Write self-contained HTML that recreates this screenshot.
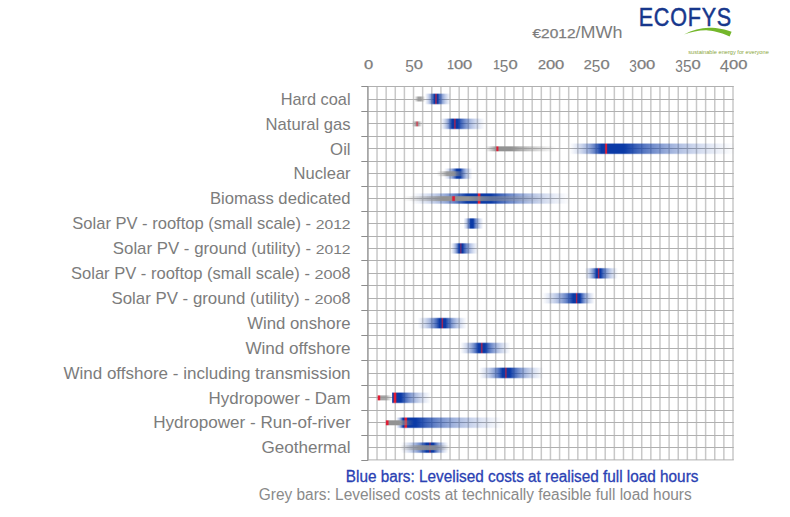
<!DOCTYPE html><html><head><meta charset="utf-8"><title>Levelised cost of electricity</title>
<style>html,body{margin:0;padding:0;background:#fff}svg{display:block}text{font-family:"Liberation Sans",sans-serif}</style></head><body>
<svg width="790" height="517" viewBox="0 0 790 517">
<rect width="790" height="517" fill="#fff"/>
<defs>
<linearGradient id="g0" x1="0" x2="1" y1="0" y2="0"><stop offset="0.0000" stop-color="#929292" stop-opacity="0.000"/><stop offset="0.0432" stop-color="#929292" stop-opacity="0.088"/><stop offset="0.0864" stop-color="#929292" stop-opacity="0.179"/><stop offset="0.1295" stop-color="#929292" stop-opacity="0.273"/><stop offset="0.1727" stop-color="#929292" stop-opacity="0.374"/><stop offset="0.2159" stop-color="#929292" stop-opacity="0.483"/><stop offset="0.2591" stop-color="#929292" stop-opacity="0.602"/><stop offset="0.3023" stop-color="#929292" stop-opacity="0.734"/><stop offset="0.3455" stop-color="#929292" stop-opacity="0.880"/><stop offset="0.6091" stop-color="#929292" stop-opacity="0.880"/><stop offset="0.6580" stop-color="#929292" stop-opacity="0.734"/><stop offset="0.7068" stop-color="#929292" stop-opacity="0.602"/><stop offset="0.7557" stop-color="#929292" stop-opacity="0.483"/><stop offset="0.8045" stop-color="#929292" stop-opacity="0.374"/><stop offset="0.8534" stop-color="#929292" stop-opacity="0.273"/><stop offset="0.9023" stop-color="#929292" stop-opacity="0.179"/><stop offset="0.9511" stop-color="#929292" stop-opacity="0.088"/><stop offset="1.0000" stop-color="#929292" stop-opacity="0.000"/></linearGradient>
<linearGradient id="g1" x1="0" x2="1" y1="0" y2="0"><stop offset="0.0000" stop-color="#0b3aa6" stop-opacity="0.000"/><stop offset="0.0457" stop-color="#0b3aa6" stop-opacity="0.063"/><stop offset="0.0913" stop-color="#0b3aa6" stop-opacity="0.133"/><stop offset="0.1370" stop-color="#0b3aa6" stop-opacity="0.214"/><stop offset="0.1827" stop-color="#0b3aa6" stop-opacity="0.312"/><stop offset="0.2284" stop-color="#0b3aa6" stop-opacity="0.435"/><stop offset="0.2740" stop-color="#0b3aa6" stop-opacity="0.586"/><stop offset="0.3197" stop-color="#0b3aa6" stop-opacity="0.772"/><stop offset="0.3654" stop-color="#0b3aa6" stop-opacity="1.000"/><stop offset="0.4962" stop-color="#0b3aa6" stop-opacity="1.000"/><stop offset="0.5591" stop-color="#0b3aa6" stop-opacity="0.772"/><stop offset="0.6221" stop-color="#0b3aa6" stop-opacity="0.586"/><stop offset="0.6851" stop-color="#0b3aa6" stop-opacity="0.435"/><stop offset="0.7481" stop-color="#0b3aa6" stop-opacity="0.312"/><stop offset="0.8111" stop-color="#0b3aa6" stop-opacity="0.214"/><stop offset="0.8740" stop-color="#0b3aa6" stop-opacity="0.133"/><stop offset="0.9370" stop-color="#0b3aa6" stop-opacity="0.063"/><stop offset="1.0000" stop-color="#0b3aa6" stop-opacity="0.000"/></linearGradient>
<linearGradient id="g2" x1="0" x2="1" y1="0" y2="0"><stop offset="0.0000" stop-color="#929292" stop-opacity="0.000"/><stop offset="0.0429" stop-color="#929292" stop-opacity="0.080"/><stop offset="0.0857" stop-color="#929292" stop-opacity="0.163"/><stop offset="0.1286" stop-color="#929292" stop-opacity="0.248"/><stop offset="0.1714" stop-color="#929292" stop-opacity="0.340"/><stop offset="0.2143" stop-color="#929292" stop-opacity="0.439"/><stop offset="0.2571" stop-color="#929292" stop-opacity="0.548"/><stop offset="0.3000" stop-color="#929292" stop-opacity="0.667"/><stop offset="0.3429" stop-color="#929292" stop-opacity="0.800"/><stop offset="0.6571" stop-color="#929292" stop-opacity="0.800"/><stop offset="0.7000" stop-color="#929292" stop-opacity="0.667"/><stop offset="0.7429" stop-color="#929292" stop-opacity="0.548"/><stop offset="0.7857" stop-color="#929292" stop-opacity="0.439"/><stop offset="0.8286" stop-color="#929292" stop-opacity="0.340"/><stop offset="0.8714" stop-color="#929292" stop-opacity="0.248"/><stop offset="0.9143" stop-color="#929292" stop-opacity="0.163"/><stop offset="0.9571" stop-color="#929292" stop-opacity="0.080"/><stop offset="1.0000" stop-color="#929292" stop-opacity="0.000"/></linearGradient>
<linearGradient id="g3" x1="0" x2="1" y1="0" y2="0"><stop offset="0.0000" stop-color="#0b3aa6" stop-opacity="0.000"/><stop offset="0.0319" stop-color="#0b3aa6" stop-opacity="0.063"/><stop offset="0.0638" stop-color="#0b3aa6" stop-opacity="0.133"/><stop offset="0.0957" stop-color="#0b3aa6" stop-opacity="0.214"/><stop offset="0.1275" stop-color="#0b3aa6" stop-opacity="0.312"/><stop offset="0.1594" stop-color="#0b3aa6" stop-opacity="0.435"/><stop offset="0.1913" stop-color="#0b3aa6" stop-opacity="0.586"/><stop offset="0.2232" stop-color="#0b3aa6" stop-opacity="0.772"/><stop offset="0.2551" stop-color="#0b3aa6" stop-opacity="1.000"/><stop offset="0.3860" stop-color="#0b3aa6" stop-opacity="1.000"/><stop offset="0.4628" stop-color="#0b3aa6" stop-opacity="0.772"/><stop offset="0.5395" stop-color="#0b3aa6" stop-opacity="0.586"/><stop offset="0.6163" stop-color="#0b3aa6" stop-opacity="0.435"/><stop offset="0.6930" stop-color="#0b3aa6" stop-opacity="0.312"/><stop offset="0.7698" stop-color="#0b3aa6" stop-opacity="0.214"/><stop offset="0.8465" stop-color="#0b3aa6" stop-opacity="0.133"/><stop offset="0.9233" stop-color="#0b3aa6" stop-opacity="0.063"/><stop offset="1.0000" stop-color="#0b3aa6" stop-opacity="0.000"/></linearGradient>
<linearGradient id="g4" x1="0" x2="1" y1="0" y2="0"><stop offset="0.0000" stop-color="#929292" stop-opacity="0.000"/><stop offset="0.0187" stop-color="#929292" stop-opacity="0.100"/><stop offset="0.0374" stop-color="#929292" stop-opacity="0.203"/><stop offset="0.0561" stop-color="#929292" stop-opacity="0.311"/><stop offset="0.0748" stop-color="#929292" stop-opacity="0.425"/><stop offset="0.0935" stop-color="#929292" stop-opacity="0.549"/><stop offset="0.1122" stop-color="#929292" stop-opacity="0.684"/><stop offset="0.1309" stop-color="#929292" stop-opacity="0.834"/><stop offset="0.1497" stop-color="#929292" stop-opacity="1.000"/><stop offset="0.3566" stop-color="#929292" stop-opacity="1.000"/><stop offset="0.4371" stop-color="#929292" stop-opacity="0.834"/><stop offset="0.5175" stop-color="#929292" stop-opacity="0.684"/><stop offset="0.5979" stop-color="#929292" stop-opacity="0.549"/><stop offset="0.6783" stop-color="#929292" stop-opacity="0.425"/><stop offset="0.7587" stop-color="#929292" stop-opacity="0.311"/><stop offset="0.8392" stop-color="#929292" stop-opacity="0.203"/><stop offset="0.9196" stop-color="#929292" stop-opacity="0.100"/><stop offset="1.0000" stop-color="#929292" stop-opacity="0.000"/></linearGradient>
<linearGradient id="g5" x1="0" x2="1" y1="0" y2="0"><stop offset="0.0000" stop-color="#0b3aa6" stop-opacity="0.000"/><stop offset="0.0242" stop-color="#0b3aa6" stop-opacity="0.063"/><stop offset="0.0483" stop-color="#0b3aa6" stop-opacity="0.133"/><stop offset="0.0725" stop-color="#0b3aa6" stop-opacity="0.214"/><stop offset="0.0966" stop-color="#0b3aa6" stop-opacity="0.312"/><stop offset="0.1208" stop-color="#0b3aa6" stop-opacity="0.435"/><stop offset="0.1449" stop-color="#0b3aa6" stop-opacity="0.586"/><stop offset="0.1691" stop-color="#0b3aa6" stop-opacity="0.772"/><stop offset="0.1932" stop-color="#0b3aa6" stop-opacity="1.000"/><stop offset="0.3297" stop-color="#0b3aa6" stop-opacity="1.000"/><stop offset="0.4135" stop-color="#0b3aa6" stop-opacity="0.772"/><stop offset="0.4973" stop-color="#0b3aa6" stop-opacity="0.586"/><stop offset="0.5811" stop-color="#0b3aa6" stop-opacity="0.435"/><stop offset="0.6649" stop-color="#0b3aa6" stop-opacity="0.312"/><stop offset="0.7486" stop-color="#0b3aa6" stop-opacity="0.214"/><stop offset="0.8324" stop-color="#0b3aa6" stop-opacity="0.133"/><stop offset="0.9162" stop-color="#0b3aa6" stop-opacity="0.063"/><stop offset="1.0000" stop-color="#0b3aa6" stop-opacity="0.000"/></linearGradient>
<linearGradient id="g6" x1="0" x2="1" y1="0" y2="0"><stop offset="0.0000" stop-color="#0b3aa6" stop-opacity="0.000"/><stop offset="0.0561" stop-color="#0b3aa6" stop-opacity="0.063"/><stop offset="0.1122" stop-color="#0b3aa6" stop-opacity="0.133"/><stop offset="0.1683" stop-color="#0b3aa6" stop-opacity="0.214"/><stop offset="0.2244" stop-color="#0b3aa6" stop-opacity="0.312"/><stop offset="0.2805" stop-color="#0b3aa6" stop-opacity="0.435"/><stop offset="0.3366" stop-color="#0b3aa6" stop-opacity="0.586"/><stop offset="0.3927" stop-color="#0b3aa6" stop-opacity="0.772"/><stop offset="0.4488" stop-color="#0b3aa6" stop-opacity="1.000"/><stop offset="0.5760" stop-color="#0b3aa6" stop-opacity="1.000"/><stop offset="0.6290" stop-color="#0b3aa6" stop-opacity="0.772"/><stop offset="0.6820" stop-color="#0b3aa6" stop-opacity="0.586"/><stop offset="0.7350" stop-color="#0b3aa6" stop-opacity="0.435"/><stop offset="0.7880" stop-color="#0b3aa6" stop-opacity="0.312"/><stop offset="0.8410" stop-color="#0b3aa6" stop-opacity="0.214"/><stop offset="0.8940" stop-color="#0b3aa6" stop-opacity="0.133"/><stop offset="0.9470" stop-color="#0b3aa6" stop-opacity="0.063"/><stop offset="1.0000" stop-color="#0b3aa6" stop-opacity="0.000"/></linearGradient>
<linearGradient id="g7" x1="0" x2="1" y1="0" y2="0"><stop offset="0.0000" stop-color="#929292" stop-opacity="0.000"/><stop offset="0.0452" stop-color="#929292" stop-opacity="0.088"/><stop offset="0.0904" stop-color="#929292" stop-opacity="0.179"/><stop offset="0.1356" stop-color="#929292" stop-opacity="0.273"/><stop offset="0.1809" stop-color="#929292" stop-opacity="0.374"/><stop offset="0.2261" stop-color="#929292" stop-opacity="0.483"/><stop offset="0.2713" stop-color="#929292" stop-opacity="0.602"/><stop offset="0.3165" stop-color="#929292" stop-opacity="0.734"/><stop offset="0.3617" stop-color="#929292" stop-opacity="0.880"/><stop offset="0.6099" stop-color="#929292" stop-opacity="0.880"/><stop offset="0.6587" stop-color="#929292" stop-opacity="0.734"/><stop offset="0.7074" stop-color="#929292" stop-opacity="0.602"/><stop offset="0.7562" stop-color="#929292" stop-opacity="0.483"/><stop offset="0.8050" stop-color="#929292" stop-opacity="0.374"/><stop offset="0.8537" stop-color="#929292" stop-opacity="0.273"/><stop offset="0.9025" stop-color="#929292" stop-opacity="0.179"/><stop offset="0.9512" stop-color="#929292" stop-opacity="0.088"/><stop offset="1.0000" stop-color="#929292" stop-opacity="0.000"/></linearGradient>
<linearGradient id="g8" x1="0" x2="1" y1="0" y2="0"><stop offset="0.0000" stop-color="#0b3aa6" stop-opacity="0.000"/><stop offset="0.0440" stop-color="#0b3aa6" stop-opacity="0.063"/><stop offset="0.0881" stop-color="#0b3aa6" stop-opacity="0.133"/><stop offset="0.1321" stop-color="#0b3aa6" stop-opacity="0.214"/><stop offset="0.1761" stop-color="#0b3aa6" stop-opacity="0.312"/><stop offset="0.2201" stop-color="#0b3aa6" stop-opacity="0.435"/><stop offset="0.2642" stop-color="#0b3aa6" stop-opacity="0.586"/><stop offset="0.3082" stop-color="#0b3aa6" stop-opacity="0.772"/><stop offset="0.3522" stop-color="#0b3aa6" stop-opacity="1.000"/><stop offset="0.5031" stop-color="#0b3aa6" stop-opacity="1.000"/><stop offset="0.5653" stop-color="#0b3aa6" stop-opacity="0.772"/><stop offset="0.6274" stop-color="#0b3aa6" stop-opacity="0.586"/><stop offset="0.6895" stop-color="#0b3aa6" stop-opacity="0.435"/><stop offset="0.7516" stop-color="#0b3aa6" stop-opacity="0.312"/><stop offset="0.8137" stop-color="#0b3aa6" stop-opacity="0.214"/><stop offset="0.8758" stop-color="#0b3aa6" stop-opacity="0.133"/><stop offset="0.9379" stop-color="#0b3aa6" stop-opacity="0.063"/><stop offset="1.0000" stop-color="#0b3aa6" stop-opacity="0.000"/></linearGradient>
<linearGradient id="g9" x1="0" x2="1" y1="0" y2="0"><stop offset="0.0000" stop-color="#929292" stop-opacity="0.000"/><stop offset="0.0352" stop-color="#929292" stop-opacity="0.100"/><stop offset="0.0704" stop-color="#929292" stop-opacity="0.203"/><stop offset="0.1056" stop-color="#929292" stop-opacity="0.311"/><stop offset="0.1408" stop-color="#929292" stop-opacity="0.425"/><stop offset="0.1761" stop-color="#929292" stop-opacity="0.549"/><stop offset="0.2113" stop-color="#929292" stop-opacity="0.684"/><stop offset="0.2465" stop-color="#929292" stop-opacity="0.834"/><stop offset="0.2817" stop-color="#929292" stop-opacity="1.000"/><stop offset="0.4577" stop-color="#929292" stop-opacity="1.000"/><stop offset="0.5255" stop-color="#929292" stop-opacity="0.834"/><stop offset="0.5933" stop-color="#929292" stop-opacity="0.684"/><stop offset="0.6611" stop-color="#929292" stop-opacity="0.549"/><stop offset="0.7289" stop-color="#929292" stop-opacity="0.425"/><stop offset="0.7967" stop-color="#929292" stop-opacity="0.311"/><stop offset="0.8644" stop-color="#929292" stop-opacity="0.203"/><stop offset="0.9322" stop-color="#929292" stop-opacity="0.100"/><stop offset="1.0000" stop-color="#929292" stop-opacity="0.000"/></linearGradient>
<linearGradient id="g10" x1="0" x2="1" y1="0" y2="0"><stop offset="0.0000" stop-color="#0b3aa6" stop-opacity="0.000"/><stop offset="0.0456" stop-color="#0b3aa6" stop-opacity="0.063"/><stop offset="0.0912" stop-color="#0b3aa6" stop-opacity="0.133"/><stop offset="0.1369" stop-color="#0b3aa6" stop-opacity="0.214"/><stop offset="0.1825" stop-color="#0b3aa6" stop-opacity="0.312"/><stop offset="0.2281" stop-color="#0b3aa6" stop-opacity="0.435"/><stop offset="0.2738" stop-color="#0b3aa6" stop-opacity="0.586"/><stop offset="0.3194" stop-color="#0b3aa6" stop-opacity="0.772"/><stop offset="0.3650" stop-color="#0b3aa6" stop-opacity="1.000"/><stop offset="0.4950" stop-color="#0b3aa6" stop-opacity="1.000"/><stop offset="0.5581" stop-color="#0b3aa6" stop-opacity="0.772"/><stop offset="0.6213" stop-color="#0b3aa6" stop-opacity="0.586"/><stop offset="0.6844" stop-color="#0b3aa6" stop-opacity="0.435"/><stop offset="0.7475" stop-color="#0b3aa6" stop-opacity="0.312"/><stop offset="0.8106" stop-color="#0b3aa6" stop-opacity="0.214"/><stop offset="0.8737" stop-color="#0b3aa6" stop-opacity="0.133"/><stop offset="0.9369" stop-color="#0b3aa6" stop-opacity="0.063"/><stop offset="1.0000" stop-color="#0b3aa6" stop-opacity="0.000"/></linearGradient>
<linearGradient id="g11" x1="0" x2="1" y1="0" y2="0"><stop offset="0.0000" stop-color="#0b3aa6" stop-opacity="0.000"/><stop offset="0.0377" stop-color="#0b3aa6" stop-opacity="0.063"/><stop offset="0.0755" stop-color="#0b3aa6" stop-opacity="0.133"/><stop offset="0.1132" stop-color="#0b3aa6" stop-opacity="0.214"/><stop offset="0.1509" stop-color="#0b3aa6" stop-opacity="0.312"/><stop offset="0.1886" stop-color="#0b3aa6" stop-opacity="0.435"/><stop offset="0.2264" stop-color="#0b3aa6" stop-opacity="0.586"/><stop offset="0.2641" stop-color="#0b3aa6" stop-opacity="0.772"/><stop offset="0.3018" stop-color="#0b3aa6" stop-opacity="1.000"/><stop offset="0.4327" stop-color="#0b3aa6" stop-opacity="1.000"/><stop offset="0.5036" stop-color="#0b3aa6" stop-opacity="0.772"/><stop offset="0.5745" stop-color="#0b3aa6" stop-opacity="0.586"/><stop offset="0.6455" stop-color="#0b3aa6" stop-opacity="0.435"/><stop offset="0.7164" stop-color="#0b3aa6" stop-opacity="0.312"/><stop offset="0.7873" stop-color="#0b3aa6" stop-opacity="0.214"/><stop offset="0.8582" stop-color="#0b3aa6" stop-opacity="0.133"/><stop offset="0.9291" stop-color="#0b3aa6" stop-opacity="0.063"/><stop offset="1.0000" stop-color="#0b3aa6" stop-opacity="0.000"/></linearGradient>
<linearGradient id="g12" x1="0" x2="1" y1="0" y2="0"><stop offset="0.0000" stop-color="#0b3aa6" stop-opacity="0.000"/><stop offset="0.0441" stop-color="#0b3aa6" stop-opacity="0.063"/><stop offset="0.0881" stop-color="#0b3aa6" stop-opacity="0.133"/><stop offset="0.1322" stop-color="#0b3aa6" stop-opacity="0.214"/><stop offset="0.1762" stop-color="#0b3aa6" stop-opacity="0.312"/><stop offset="0.2203" stop-color="#0b3aa6" stop-opacity="0.435"/><stop offset="0.2643" stop-color="#0b3aa6" stop-opacity="0.586"/><stop offset="0.3084" stop-color="#0b3aa6" stop-opacity="0.772"/><stop offset="0.3524" stop-color="#0b3aa6" stop-opacity="1.000"/><stop offset="0.4789" stop-color="#0b3aa6" stop-opacity="1.000"/><stop offset="0.5441" stop-color="#0b3aa6" stop-opacity="0.772"/><stop offset="0.6092" stop-color="#0b3aa6" stop-opacity="0.586"/><stop offset="0.6743" stop-color="#0b3aa6" stop-opacity="0.435"/><stop offset="0.7395" stop-color="#0b3aa6" stop-opacity="0.312"/><stop offset="0.8046" stop-color="#0b3aa6" stop-opacity="0.214"/><stop offset="0.8697" stop-color="#0b3aa6" stop-opacity="0.133"/><stop offset="0.9349" stop-color="#0b3aa6" stop-opacity="0.063"/><stop offset="1.0000" stop-color="#0b3aa6" stop-opacity="0.000"/></linearGradient>
<linearGradient id="g13" x1="0" x2="1" y1="0" y2="0"><stop offset="0.0000" stop-color="#0b3aa6" stop-opacity="0.000"/><stop offset="0.0741" stop-color="#0b3aa6" stop-opacity="0.063"/><stop offset="0.1483" stop-color="#0b3aa6" stop-opacity="0.133"/><stop offset="0.2224" stop-color="#0b3aa6" stop-opacity="0.214"/><stop offset="0.2966" stop-color="#0b3aa6" stop-opacity="0.312"/><stop offset="0.3707" stop-color="#0b3aa6" stop-opacity="0.435"/><stop offset="0.4449" stop-color="#0b3aa6" stop-opacity="0.586"/><stop offset="0.5190" stop-color="#0b3aa6" stop-opacity="0.772"/><stop offset="0.5932" stop-color="#0b3aa6" stop-opacity="1.000"/><stop offset="0.7224" stop-color="#0b3aa6" stop-opacity="1.000"/><stop offset="0.7571" stop-color="#0b3aa6" stop-opacity="0.772"/><stop offset="0.7918" stop-color="#0b3aa6" stop-opacity="0.586"/><stop offset="0.8265" stop-color="#0b3aa6" stop-opacity="0.435"/><stop offset="0.8612" stop-color="#0b3aa6" stop-opacity="0.312"/><stop offset="0.8959" stop-color="#0b3aa6" stop-opacity="0.214"/><stop offset="0.9306" stop-color="#0b3aa6" stop-opacity="0.133"/><stop offset="0.9653" stop-color="#0b3aa6" stop-opacity="0.063"/><stop offset="1.0000" stop-color="#0b3aa6" stop-opacity="0.000"/></linearGradient>
<linearGradient id="g14" x1="0" x2="1" y1="0" y2="0"><stop offset="0.0000" stop-color="#0b3aa6" stop-opacity="0.000"/><stop offset="0.0554" stop-color="#0b3aa6" stop-opacity="0.063"/><stop offset="0.1108" stop-color="#0b3aa6" stop-opacity="0.133"/><stop offset="0.1662" stop-color="#0b3aa6" stop-opacity="0.214"/><stop offset="0.2217" stop-color="#0b3aa6" stop-opacity="0.312"/><stop offset="0.2771" stop-color="#0b3aa6" stop-opacity="0.435"/><stop offset="0.3325" stop-color="#0b3aa6" stop-opacity="0.586"/><stop offset="0.3879" stop-color="#0b3aa6" stop-opacity="0.772"/><stop offset="0.4433" stop-color="#0b3aa6" stop-opacity="1.000"/><stop offset="0.5607" stop-color="#0b3aa6" stop-opacity="1.000"/><stop offset="0.6156" stop-color="#0b3aa6" stop-opacity="0.772"/><stop offset="0.6705" stop-color="#0b3aa6" stop-opacity="0.586"/><stop offset="0.7255" stop-color="#0b3aa6" stop-opacity="0.435"/><stop offset="0.7804" stop-color="#0b3aa6" stop-opacity="0.312"/><stop offset="0.8353" stop-color="#0b3aa6" stop-opacity="0.214"/><stop offset="0.8902" stop-color="#0b3aa6" stop-opacity="0.133"/><stop offset="0.9451" stop-color="#0b3aa6" stop-opacity="0.063"/><stop offset="1.0000" stop-color="#0b3aa6" stop-opacity="0.000"/></linearGradient>
<linearGradient id="g15" x1="0" x2="1" y1="0" y2="0"><stop offset="0.0000" stop-color="#0b3aa6" stop-opacity="0.000"/><stop offset="0.0457" stop-color="#0b3aa6" stop-opacity="0.063"/><stop offset="0.0915" stop-color="#0b3aa6" stop-opacity="0.133"/><stop offset="0.1372" stop-color="#0b3aa6" stop-opacity="0.214"/><stop offset="0.1829" stop-color="#0b3aa6" stop-opacity="0.312"/><stop offset="0.2286" stop-color="#0b3aa6" stop-opacity="0.435"/><stop offset="0.2744" stop-color="#0b3aa6" stop-opacity="0.586"/><stop offset="0.3201" stop-color="#0b3aa6" stop-opacity="0.772"/><stop offset="0.3658" stop-color="#0b3aa6" stop-opacity="1.000"/><stop offset="0.4930" stop-color="#0b3aa6" stop-opacity="1.000"/><stop offset="0.5564" stop-color="#0b3aa6" stop-opacity="0.772"/><stop offset="0.6198" stop-color="#0b3aa6" stop-opacity="0.586"/><stop offset="0.6832" stop-color="#0b3aa6" stop-opacity="0.435"/><stop offset="0.7465" stop-color="#0b3aa6" stop-opacity="0.312"/><stop offset="0.8099" stop-color="#0b3aa6" stop-opacity="0.214"/><stop offset="0.8733" stop-color="#0b3aa6" stop-opacity="0.133"/><stop offset="0.9366" stop-color="#0b3aa6" stop-opacity="0.063"/><stop offset="1.0000" stop-color="#0b3aa6" stop-opacity="0.000"/></linearGradient>
<linearGradient id="g16" x1="0" x2="1" y1="0" y2="0"><stop offset="0.0000" stop-color="#0b3aa6" stop-opacity="0.000"/><stop offset="0.0458" stop-color="#0b3aa6" stop-opacity="0.063"/><stop offset="0.0916" stop-color="#0b3aa6" stop-opacity="0.133"/><stop offset="0.1374" stop-color="#0b3aa6" stop-opacity="0.214"/><stop offset="0.1832" stop-color="#0b3aa6" stop-opacity="0.312"/><stop offset="0.2289" stop-color="#0b3aa6" stop-opacity="0.435"/><stop offset="0.2747" stop-color="#0b3aa6" stop-opacity="0.586"/><stop offset="0.3205" stop-color="#0b3aa6" stop-opacity="0.772"/><stop offset="0.3663" stop-color="#0b3aa6" stop-opacity="1.000"/><stop offset="0.4822" stop-color="#0b3aa6" stop-opacity="1.000"/><stop offset="0.5469" stop-color="#0b3aa6" stop-opacity="0.772"/><stop offset="0.6117" stop-color="#0b3aa6" stop-opacity="0.586"/><stop offset="0.6764" stop-color="#0b3aa6" stop-opacity="0.435"/><stop offset="0.7411" stop-color="#0b3aa6" stop-opacity="0.312"/><stop offset="0.8058" stop-color="#0b3aa6" stop-opacity="0.214"/><stop offset="0.8706" stop-color="#0b3aa6" stop-opacity="0.133"/><stop offset="0.9353" stop-color="#0b3aa6" stop-opacity="0.063"/><stop offset="1.0000" stop-color="#0b3aa6" stop-opacity="0.000"/></linearGradient>
<linearGradient id="g17" x1="0" x2="1" y1="0" y2="0"><stop offset="0.0000" stop-color="#0b3aa6" stop-opacity="0.000"/><stop offset="0.0038" stop-color="#0b3aa6" stop-opacity="0.063"/><stop offset="0.0076" stop-color="#0b3aa6" stop-opacity="0.133"/><stop offset="0.0114" stop-color="#0b3aa6" stop-opacity="0.214"/><stop offset="0.0152" stop-color="#0b3aa6" stop-opacity="0.312"/><stop offset="0.0189" stop-color="#0b3aa6" stop-opacity="0.435"/><stop offset="0.0227" stop-color="#0b3aa6" stop-opacity="0.586"/><stop offset="0.0265" stop-color="#0b3aa6" stop-opacity="0.772"/><stop offset="0.0303" stop-color="#0b3aa6" stop-opacity="1.000"/><stop offset="0.2424" stop-color="#0b3aa6" stop-opacity="1.000"/><stop offset="0.3371" stop-color="#0b3aa6" stop-opacity="0.772"/><stop offset="0.4318" stop-color="#0b3aa6" stop-opacity="0.586"/><stop offset="0.5265" stop-color="#0b3aa6" stop-opacity="0.435"/><stop offset="0.6212" stop-color="#0b3aa6" stop-opacity="0.312"/><stop offset="0.7159" stop-color="#0b3aa6" stop-opacity="0.214"/><stop offset="0.8106" stop-color="#0b3aa6" stop-opacity="0.133"/><stop offset="0.9053" stop-color="#0b3aa6" stop-opacity="0.063"/><stop offset="1.0000" stop-color="#0b3aa6" stop-opacity="0.000"/></linearGradient>
<linearGradient id="g18" x1="0" x2="1" y1="0" y2="0"><stop offset="0.0000" stop-color="#929292" stop-opacity="0.000"/><stop offset="0.0168" stop-color="#929292" stop-opacity="0.082"/><stop offset="0.0336" stop-color="#929292" stop-opacity="0.167"/><stop offset="0.0503" stop-color="#929292" stop-opacity="0.255"/><stop offset="0.0671" stop-color="#929292" stop-opacity="0.349"/><stop offset="0.0839" stop-color="#929292" stop-opacity="0.450"/><stop offset="0.1007" stop-color="#929292" stop-opacity="0.561"/><stop offset="0.1174" stop-color="#929292" stop-opacity="0.684"/><stop offset="0.1342" stop-color="#929292" stop-opacity="0.820"/><stop offset="0.5638" stop-color="#929292" stop-opacity="0.820"/><stop offset="0.6183" stop-color="#929292" stop-opacity="0.684"/><stop offset="0.6728" stop-color="#929292" stop-opacity="0.561"/><stop offset="0.7273" stop-color="#929292" stop-opacity="0.450"/><stop offset="0.7819" stop-color="#929292" stop-opacity="0.349"/><stop offset="0.8364" stop-color="#929292" stop-opacity="0.255"/><stop offset="0.8909" stop-color="#929292" stop-opacity="0.167"/><stop offset="0.9455" stop-color="#929292" stop-opacity="0.082"/><stop offset="1.0000" stop-color="#929292" stop-opacity="0.000"/></linearGradient>
<linearGradient id="g19" x1="0" x2="1" y1="0" y2="0"><stop offset="0.0000" stop-color="#0b3aa6" stop-opacity="0.000"/><stop offset="0.0080" stop-color="#0b3aa6" stop-opacity="0.063"/><stop offset="0.0161" stop-color="#0b3aa6" stop-opacity="0.133"/><stop offset="0.0241" stop-color="#0b3aa6" stop-opacity="0.214"/><stop offset="0.0321" stop-color="#0b3aa6" stop-opacity="0.312"/><stop offset="0.0401" stop-color="#0b3aa6" stop-opacity="0.435"/><stop offset="0.0482" stop-color="#0b3aa6" stop-opacity="0.586"/><stop offset="0.0562" stop-color="#0b3aa6" stop-opacity="0.772"/><stop offset="0.0642" stop-color="#0b3aa6" stop-opacity="1.000"/><stop offset="0.1835" stop-color="#0b3aa6" stop-opacity="1.000"/><stop offset="0.2856" stop-color="#0b3aa6" stop-opacity="0.772"/><stop offset="0.3876" stop-color="#0b3aa6" stop-opacity="0.586"/><stop offset="0.4897" stop-color="#0b3aa6" stop-opacity="0.435"/><stop offset="0.5917" stop-color="#0b3aa6" stop-opacity="0.312"/><stop offset="0.6938" stop-color="#0b3aa6" stop-opacity="0.214"/><stop offset="0.7959" stop-color="#0b3aa6" stop-opacity="0.133"/><stop offset="0.8979" stop-color="#0b3aa6" stop-opacity="0.063"/><stop offset="1.0000" stop-color="#0b3aa6" stop-opacity="0.000"/></linearGradient>
<linearGradient id="g20" x1="0" x2="1" y1="0" y2="0"><stop offset="0.0000" stop-color="#929292" stop-opacity="0.000"/><stop offset="0.0095" stop-color="#929292" stop-opacity="0.100"/><stop offset="0.0191" stop-color="#929292" stop-opacity="0.203"/><stop offset="0.0286" stop-color="#929292" stop-opacity="0.311"/><stop offset="0.0382" stop-color="#929292" stop-opacity="0.425"/><stop offset="0.0477" stop-color="#929292" stop-opacity="0.549"/><stop offset="0.0573" stop-color="#929292" stop-opacity="0.684"/><stop offset="0.0668" stop-color="#929292" stop-opacity="0.834"/><stop offset="0.0764" stop-color="#929292" stop-opacity="1.000"/><stop offset="0.4792" stop-color="#929292" stop-opacity="1.000"/><stop offset="0.5443" stop-color="#929292" stop-opacity="0.834"/><stop offset="0.6094" stop-color="#929292" stop-opacity="0.684"/><stop offset="0.6745" stop-color="#929292" stop-opacity="0.549"/><stop offset="0.7396" stop-color="#929292" stop-opacity="0.425"/><stop offset="0.8047" stop-color="#929292" stop-opacity="0.311"/><stop offset="0.8698" stop-color="#929292" stop-opacity="0.203"/><stop offset="0.9349" stop-color="#929292" stop-opacity="0.100"/><stop offset="1.0000" stop-color="#929292" stop-opacity="0.000"/></linearGradient>
<linearGradient id="g21" x1="0" x2="1" y1="0" y2="0"><stop offset="0.0000" stop-color="#0b3aa6" stop-opacity="0.000"/><stop offset="0.0671" stop-color="#0b3aa6" stop-opacity="0.063"/><stop offset="0.1342" stop-color="#0b3aa6" stop-opacity="0.133"/><stop offset="0.2013" stop-color="#0b3aa6" stop-opacity="0.214"/><stop offset="0.2684" stop-color="#0b3aa6" stop-opacity="0.312"/><stop offset="0.3355" stop-color="#0b3aa6" stop-opacity="0.435"/><stop offset="0.4026" stop-color="#0b3aa6" stop-opacity="0.586"/><stop offset="0.4697" stop-color="#0b3aa6" stop-opacity="0.772"/><stop offset="0.5368" stop-color="#0b3aa6" stop-opacity="1.000"/><stop offset="0.6800" stop-color="#0b3aa6" stop-opacity="1.000"/><stop offset="0.7200" stop-color="#0b3aa6" stop-opacity="0.772"/><stop offset="0.7600" stop-color="#0b3aa6" stop-opacity="0.586"/><stop offset="0.8000" stop-color="#0b3aa6" stop-opacity="0.435"/><stop offset="0.8400" stop-color="#0b3aa6" stop-opacity="0.312"/><stop offset="0.8800" stop-color="#0b3aa6" stop-opacity="0.214"/><stop offset="0.9200" stop-color="#0b3aa6" stop-opacity="0.133"/><stop offset="0.9600" stop-color="#0b3aa6" stop-opacity="0.063"/><stop offset="1.0000" stop-color="#0b3aa6" stop-opacity="0.000"/></linearGradient>
<linearGradient id="g22" x1="0" x2="1" y1="0" y2="0"><stop offset="0.0000" stop-color="#929292" stop-opacity="0.000"/><stop offset="0.0483" stop-color="#929292" stop-opacity="0.088"/><stop offset="0.0965" stop-color="#929292" stop-opacity="0.179"/><stop offset="0.1448" stop-color="#929292" stop-opacity="0.273"/><stop offset="0.1931" stop-color="#929292" stop-opacity="0.374"/><stop offset="0.2413" stop-color="#929292" stop-opacity="0.483"/><stop offset="0.2896" stop-color="#929292" stop-opacity="0.602"/><stop offset="0.3379" stop-color="#929292" stop-opacity="0.734"/><stop offset="0.3861" stop-color="#929292" stop-opacity="0.880"/><stop offset="0.6832" stop-color="#929292" stop-opacity="0.880"/><stop offset="0.7228" stop-color="#929292" stop-opacity="0.734"/><stop offset="0.7624" stop-color="#929292" stop-opacity="0.602"/><stop offset="0.8020" stop-color="#929292" stop-opacity="0.483"/><stop offset="0.8416" stop-color="#929292" stop-opacity="0.374"/><stop offset="0.8812" stop-color="#929292" stop-opacity="0.273"/><stop offset="0.9208" stop-color="#929292" stop-opacity="0.179"/><stop offset="0.9604" stop-color="#929292" stop-opacity="0.088"/><stop offset="1.0000" stop-color="#929292" stop-opacity="0.000"/></linearGradient>
<linearGradient id="vb" x1="0" x2="0" y1="0" y2="1"><stop offset="0" stop-color="#fff" stop-opacity="0"/><stop offset="0.133" stop-color="#fff" stop-opacity="1"/><stop offset="0.867" stop-color="#fff" stop-opacity="1"/><stop offset="1" stop-color="#fff" stop-opacity="0"/></linearGradient>
<mask id="mb" maskContentUnits="objectBoundingBox" x="0" y="0" width="1" height="1"><rect x="0" y="0" width="1" height="1" fill="url(#vb)"/></mask>
<linearGradient id="vg" x1="0" x2="0" y1="0" y2="1"><stop offset="0" stop-color="#fff" stop-opacity="0"/><stop offset="0.219" stop-color="#fff" stop-opacity="1"/><stop offset="0.781" stop-color="#fff" stop-opacity="1"/><stop offset="1" stop-color="#fff" stop-opacity="0"/></linearGradient>
<mask id="mg" maskContentUnits="objectBoundingBox" x="0" y="0" width="1" height="1"><rect x="0" y="0" width="1" height="1" fill="url(#vg)"/></mask>
</defs>
<g stroke="#c8c8c8" stroke-width="1.5" fill="none">
<line x1="377.03" y1="86.5" x2="377.03" y2="460.1"/>
<line x1="386.15" y1="86.5" x2="386.15" y2="460.1"/>
<line x1="395.28" y1="86.5" x2="395.28" y2="460.1"/>
<line x1="404.41" y1="86.5" x2="404.41" y2="460.1"/>
<line x1="413.54" y1="86.5" x2="413.54" y2="460.1"/>
<line x1="422.66" y1="86.5" x2="422.66" y2="460.1"/>
<line x1="431.79" y1="86.5" x2="431.79" y2="460.1"/>
<line x1="440.92" y1="86.5" x2="440.92" y2="460.1"/>
<line x1="450.05" y1="86.5" x2="450.05" y2="460.1"/>
<line x1="459.17" y1="86.5" x2="459.17" y2="460.1"/>
<line x1="468.30" y1="86.5" x2="468.30" y2="460.1"/>
<line x1="477.43" y1="86.5" x2="477.43" y2="460.1"/>
<line x1="486.56" y1="86.5" x2="486.56" y2="460.1"/>
<line x1="495.69" y1="86.5" x2="495.69" y2="460.1"/>
<line x1="504.81" y1="86.5" x2="504.81" y2="460.1"/>
<line x1="513.94" y1="86.5" x2="513.94" y2="460.1"/>
<line x1="523.07" y1="86.5" x2="523.07" y2="460.1"/>
<line x1="532.19" y1="86.5" x2="532.19" y2="460.1"/>
<line x1="541.32" y1="86.5" x2="541.32" y2="460.1"/>
<line x1="550.45" y1="86.5" x2="550.45" y2="460.1"/>
<line x1="559.58" y1="86.5" x2="559.58" y2="460.1"/>
<line x1="568.70" y1="86.5" x2="568.70" y2="460.1"/>
<line x1="577.83" y1="86.5" x2="577.83" y2="460.1"/>
<line x1="586.96" y1="86.5" x2="586.96" y2="460.1"/>
<line x1="596.09" y1="86.5" x2="596.09" y2="460.1"/>
<line x1="605.21" y1="86.5" x2="605.21" y2="460.1"/>
<line x1="614.34" y1="86.5" x2="614.34" y2="460.1"/>
<line x1="623.47" y1="86.5" x2="623.47" y2="460.1"/>
<line x1="632.60" y1="86.5" x2="632.60" y2="460.1"/>
<line x1="641.72" y1="86.5" x2="641.72" y2="460.1"/>
<line x1="650.85" y1="86.5" x2="650.85" y2="460.1"/>
<line x1="659.98" y1="86.5" x2="659.98" y2="460.1"/>
<line x1="669.11" y1="86.5" x2="669.11" y2="460.1"/>
<line x1="678.24" y1="86.5" x2="678.24" y2="460.1"/>
<line x1="687.36" y1="86.5" x2="687.36" y2="460.1"/>
<line x1="696.49" y1="86.5" x2="696.49" y2="460.1"/>
<line x1="705.62" y1="86.5" x2="705.62" y2="460.1"/>
<line x1="714.75" y1="86.5" x2="714.75" y2="460.1"/>
<line x1="723.87" y1="86.5" x2="723.87" y2="460.1"/>
<line x1="733.00" y1="86.5" x2="733.00" y2="460.1"/>
</g><g stroke="#b0b0b0" stroke-width="1" fill="none">
<line x1="367.9" y1="86.50" x2="733.8" y2="86.50"/>
<line x1="367.9" y1="99.50" x2="733.8" y2="99.50"/>
<line x1="367.9" y1="111.50" x2="733.8" y2="111.50"/>
<line x1="367.9" y1="123.50" x2="733.8" y2="123.50"/>
<line x1="367.9" y1="136.50" x2="733.8" y2="136.50"/>
<line x1="367.9" y1="148.50" x2="733.8" y2="148.50"/>
<line x1="367.9" y1="161.50" x2="733.8" y2="161.50"/>
<line x1="367.9" y1="173.50" x2="733.8" y2="173.50"/>
<line x1="367.9" y1="186.50" x2="733.8" y2="186.50"/>
<line x1="367.9" y1="198.50" x2="733.8" y2="198.50"/>
<line x1="367.9" y1="211.50" x2="733.8" y2="211.50"/>
<line x1="367.9" y1="223.50" x2="733.8" y2="223.50"/>
<line x1="367.9" y1="236.50" x2="733.8" y2="236.50"/>
<line x1="367.9" y1="248.50" x2="733.8" y2="248.50"/>
<line x1="367.9" y1="260.50" x2="733.8" y2="260.50"/>
<line x1="367.9" y1="273.50" x2="733.8" y2="273.50"/>
<line x1="367.9" y1="285.50" x2="733.8" y2="285.50"/>
<line x1="367.9" y1="298.50" x2="733.8" y2="298.50"/>
<line x1="367.9" y1="310.50" x2="733.8" y2="310.50"/>
<line x1="367.9" y1="323.50" x2="733.8" y2="323.50"/>
<line x1="367.9" y1="335.50" x2="733.8" y2="335.50"/>
<line x1="367.9" y1="348.50" x2="733.8" y2="348.50"/>
<line x1="367.9" y1="360.50" x2="733.8" y2="360.50"/>
<line x1="367.9" y1="373.50" x2="733.8" y2="373.50"/>
<line x1="367.9" y1="385.50" x2="733.8" y2="385.50"/>
<line x1="367.9" y1="397.50" x2="733.8" y2="397.50"/>
<line x1="367.9" y1="410.50" x2="733.8" y2="410.50"/>
<line x1="367.9" y1="422.50" x2="733.8" y2="422.50"/>
<line x1="367.9" y1="435.50" x2="733.8" y2="435.50"/>
<line x1="367.9" y1="447.50" x2="733.8" y2="447.50"/>
<line x1="367.9" y1="459.90" x2="733.8" y2="459.90"/>
</g><g stroke="#a2a2a2" stroke-width="1.7" fill="none">
<line x1="367.9" y1="86.1" x2="367.9" y2="460.5"/>
</g><g stroke="#8c8c8c" stroke-width="1" fill="none">
<line x1="361.29999999999995" y1="86.50" x2="367.9" y2="86.50"/>
<line x1="361.29999999999995" y1="111.50" x2="367.9" y2="111.50"/>
<line x1="361.29999999999995" y1="136.50" x2="367.9" y2="136.50"/>
<line x1="361.29999999999995" y1="161.50" x2="367.9" y2="161.50"/>
<line x1="361.29999999999995" y1="186.50" x2="367.9" y2="186.50"/>
<line x1="361.29999999999995" y1="211.50" x2="367.9" y2="211.50"/>
<line x1="361.29999999999995" y1="236.50" x2="367.9" y2="236.50"/>
<line x1="361.29999999999995" y1="260.50" x2="367.9" y2="260.50"/>
<line x1="361.29999999999995" y1="285.50" x2="367.9" y2="285.50"/>
<line x1="361.29999999999995" y1="310.50" x2="367.9" y2="310.50"/>
<line x1="361.29999999999995" y1="335.50" x2="367.9" y2="335.50"/>
<line x1="361.29999999999995" y1="360.50" x2="367.9" y2="360.50"/>
<line x1="361.29999999999995" y1="385.50" x2="367.9" y2="385.50"/>
<line x1="361.29999999999995" y1="410.50" x2="367.9" y2="410.50"/>
<line x1="361.29999999999995" y1="435.50" x2="367.9" y2="435.50"/>
<line x1="361.29999999999995" y1="460.50" x2="367.9" y2="460.50"/>
</g>
<g>
<g mask="url(#mg)"><rect x="414.3" y="95.75" width="11.0" height="6.4" fill="url(#g0)"/>
</g>
<g mask="url(#mb)"><rect x="424.8" y="92.95" width="26.0" height="12.0" fill="url(#g1)"/>
<rect x="434.95" y="92.95" width="2.1" height="12.0" fill="#e01c34" fill-opacity="0.21"/>
<rect x="435.45" y="92.95" width="1.1" height="12.0" fill="#e01c34" fill-opacity="0.70"/>
</g>
<g mask="url(#mg)"><rect x="411.8" y="120.66" width="10.5" height="6.4" fill="url(#g2)"/>
<rect x="416.05" y="120.66" width="2.1" height="6.4" fill="#e01c34" fill-opacity="0.21"/>
<rect x="416.55" y="120.66" width="1.1" height="6.4" fill="#e01c34" fill-opacity="0.70"/>
</g>
<g mask="url(#mb)"><rect x="440.7" y="117.86" width="44.3" height="12.0" fill="url(#g3)"/>
<rect x="453.85" y="117.86" width="2.1" height="12.0" fill="#e01c34" fill-opacity="0.21"/>
<rect x="454.35" y="117.86" width="1.1" height="12.0" fill="#e01c34" fill-opacity="0.70"/>
</g>
<g mask="url(#mg)"><rect x="485.5" y="145.57" width="71.5" height="6.4" fill="url(#g4)"/>
<rect x="496.05" y="145.57" width="2.7" height="6.4" fill="#e01c34" fill-opacity="0.30"/>
<rect x="496.55" y="145.57" width="1.7" height="6.4" fill="#e01c34" fill-opacity="1.00"/>
</g>
<g mask="url(#mb)"><rect x="569.4" y="142.77" width="165.6" height="12.0" fill="url(#g5)"/>
<rect x="604.75" y="142.77" width="2.7" height="12.0" fill="#e01c34" fill-opacity="0.30"/>
<rect x="605.25" y="142.77" width="1.7" height="12.0" fill="#e01c34" fill-opacity="1.00"/>
</g>
<g mask="url(#mb)"><rect x="444.0" y="167.67" width="28.3" height="12.0" fill="url(#g6)"/>
</g>
<g mask="url(#mg)"><rect x="436.8" y="170.47" width="28.2" height="6.4" fill="url(#g7)"/>
</g>
<g mask="url(#mb)"><rect x="411.0" y="192.58" width="159.0" height="12.0" fill="url(#g8)"/>
<rect x="477.40" y="192.58" width="3.4" height="12.0" fill="#e01c34" fill-opacity="0.30"/>
<rect x="477.90" y="192.58" width="2.4" height="12.0" fill="#e01c34" fill-opacity="1.00"/>
</g>
<g mask="url(#mg)"><rect x="403.0" y="195.38" width="142.0" height="6.4" fill="url(#g9)"/>
<rect x="451.90" y="195.38" width="3.4" height="6.4" fill="#e01c34" fill-opacity="0.30"/>
<rect x="452.40" y="195.38" width="2.4" height="6.4" fill="#e01c34" fill-opacity="1.00"/>
</g>
<g mask="url(#mb)"><rect x="463.3" y="217.49" width="20.0" height="12.0" fill="url(#g10)"/>
</g>
<g mask="url(#mb)"><rect x="450.7" y="242.39" width="27.5" height="12.0" fill="url(#g11)"/>
<rect x="459.75" y="242.39" width="2.1" height="12.0" fill="#e01c34" fill-opacity="0.12"/>
<rect x="460.25" y="242.39" width="1.1" height="12.0" fill="#e01c34" fill-opacity="0.40"/>
</g>
<g mask="url(#mb)"><rect x="584.8" y="267.30" width="33.2" height="12.0" fill="url(#g12)"/>
<rect x="597.55" y="267.30" width="2.1" height="12.0" fill="#e01c34" fill-opacity="0.20"/>
<rect x="598.05" y="267.30" width="1.1" height="12.0" fill="#e01c34" fill-opacity="0.68"/>
</g>
<g mask="url(#mb)"><rect x="542.0" y="292.21" width="52.6" height="12.0" fill="url(#g13)"/>
<rect x="575.55" y="292.21" width="2.1" height="12.0" fill="#e01c34" fill-opacity="0.20"/>
<rect x="576.05" y="292.21" width="1.1" height="12.0" fill="#e01c34" fill-opacity="0.68"/>
</g>
<g mask="url(#mb)"><rect x="417.6" y="317.11" width="49.4" height="12.0" fill="url(#g14)"/>
<rect x="441.25" y="317.11" width="2.1" height="12.0" fill="#e01c34" fill-opacity="0.20"/>
<rect x="441.75" y="317.11" width="1.1" height="12.0" fill="#e01c34" fill-opacity="0.68"/>
</g>
<g mask="url(#mb)"><rect x="460.2" y="342.02" width="50.3" height="12.0" fill="url(#g15)"/>
<rect x="480.75" y="342.02" width="2.1" height="12.0" fill="#e01c34" fill-opacity="0.20"/>
<rect x="481.25" y="342.02" width="1.1" height="12.0" fill="#e01c34" fill-opacity="0.68"/>
</g>
<g mask="url(#mb)"><rect x="478.8" y="366.93" width="64.7" height="12.0" fill="url(#g16)"/>
<rect x="504.85" y="366.93" width="2.1" height="12.0" fill="#e01c34" fill-opacity="0.20"/>
<rect x="505.35" y="366.93" width="1.1" height="12.0" fill="#e01c34" fill-opacity="0.68"/>
</g>
<g mask="url(#mb)"><rect x="391.4" y="391.83" width="39.6" height="12.0" fill="url(#g17)"/>
<rect x="393.35" y="391.83" width="3.3" height="12.0" fill="#e01c34" fill-opacity="0.30"/>
<rect x="393.85" y="391.83" width="2.3" height="12.0" fill="#e01c34" fill-opacity="1.00"/>
</g>
<g mask="url(#mg)"><rect x="377.6" y="394.63" width="14.9" height="6.4" fill="url(#g18)"/>
<rect x="377.25" y="394.63" width="3.3" height="6.4" fill="#e01c34" fill-opacity="0.30"/>
<rect x="377.75" y="394.63" width="2.3" height="6.4" fill="#e01c34" fill-opacity="1.00"/>
</g>
<g mask="url(#mb)"><rect x="396.0" y="416.74" width="109.0" height="12.0" fill="url(#g19)"/>
<rect x="404.15" y="416.74" width="3.3" height="12.0" fill="#e01c34" fill-opacity="0.30"/>
<rect x="404.65" y="416.74" width="2.3" height="12.0" fill="#e01c34" fill-opacity="1.00"/>
</g>
<g mask="url(#mg)"><rect x="385.2" y="419.54" width="28.8" height="6.4" fill="url(#g20)"/>
<rect x="385.55" y="419.54" width="3.3" height="6.4" fill="#e01c34" fill-opacity="0.30"/>
<rect x="386.05" y="419.54" width="2.3" height="6.4" fill="#e01c34" fill-opacity="1.00"/>
</g>
<g mask="url(#mb)"><rect x="401.0" y="441.65" width="47.5" height="12.0" fill="url(#g21)"/>
<rect x="428.85" y="441.65" width="2.1" height="12.0" fill="#e01c34" fill-opacity="0.14"/>
<rect x="429.35" y="441.65" width="1.1" height="12.0" fill="#e01c34" fill-opacity="0.45"/>
</g>
<g mask="url(#mg)"><rect x="399.5" y="444.45" width="50.5" height="6.4" fill="url(#g22)"/>
</g>
</g>
<g fill="#7c7c7c" font-size="16.2">
<text x="280.7" y="104.7" textLength="69.9" lengthAdjust="spacingAndGlyphs">Hard coal</text>
<text x="265.6" y="129.6" textLength="85.0" lengthAdjust="spacingAndGlyphs">Natural gas</text>
<text x="330.1" y="154.5" textLength="20.5" lengthAdjust="spacingAndGlyphs">Oil</text>
<text x="293.6" y="179.4" textLength="57.0" lengthAdjust="spacingAndGlyphs">Nuclear</text>
<text x="209.9" y="204.3" textLength="140.7" lengthAdjust="spacingAndGlyphs">Biomass dedicated</text>
<text x="72.3" y="229.2"><tspan textLength="243.4" lengthAdjust="spacingAndGlyphs">Solar PV - rooftop (small scale) - </tspan><tspan font-size="12.2" textLength="34.9" lengthAdjust="spacingAndGlyphs">2012</tspan></text>
<text x="112.8" y="254.1"><tspan textLength="202.9" lengthAdjust="spacingAndGlyphs">Solar PV - ground (utility) - </tspan><tspan font-size="12.2" textLength="34.9" lengthAdjust="spacingAndGlyphs">2012</tspan></text>
<text x="71.0" y="279.0"><tspan textLength="243.5" lengthAdjust="spacingAndGlyphs">Solar PV - rooftop (small scale) - </tspan><tspan font-size="12.2" textLength="27.1" lengthAdjust="spacingAndGlyphs">200</tspan><tspan textLength="9" lengthAdjust="spacingAndGlyphs">8</tspan></text>
<text x="111.5" y="303.9"><tspan textLength="203.0" lengthAdjust="spacingAndGlyphs">Solar PV - ground (utility) - </tspan><tspan font-size="12.2" textLength="27.1" lengthAdjust="spacingAndGlyphs">200</tspan><tspan textLength="9" lengthAdjust="spacingAndGlyphs">8</tspan></text>
<text x="247.2" y="328.8" textLength="103.4" lengthAdjust="spacingAndGlyphs">Wind onshore</text>
<text x="245.4" y="353.7" textLength="105.2" lengthAdjust="spacingAndGlyphs">Wind offshore</text>
<text x="63.4" y="378.6" textLength="287.2" lengthAdjust="spacingAndGlyphs">Wind offshore - including transmission</text>
<text x="208.6" y="403.5" textLength="142.0" lengthAdjust="spacingAndGlyphs">Hydropower - Dam</text>
<text x="153.2" y="428.4" textLength="197.4" lengthAdjust="spacingAndGlyphs">Hydropower - Run-of-river</text>
<text x="261.5" y="453.3" textLength="89.1" lengthAdjust="spacingAndGlyphs">Geothermal</text>
</g>
<g fill="#7c7c7c" font-size="16.4">
<text x="363.9" y="69"><tspan font-size="12.2" stroke="#7c7c7c" stroke-width="0.25" dy="0" textLength="9.2" lengthAdjust="spacingAndGlyphs">0</tspan></text>
<text x="405.2" y="69"><tspan dy="3.3" textLength="8.6" lengthAdjust="spacingAndGlyphs">5</tspan><tspan font-size="12.2" stroke="#7c7c7c" stroke-width="0.25" dy="-3.3" textLength="9.2" lengthAdjust="spacingAndGlyphs">0</tspan></text>
<text x="447.3" y="69"><tspan font-size="12.2" stroke="#7c7c7c" stroke-width="0.25" dy="0" textLength="6.6" lengthAdjust="spacingAndGlyphs">1</tspan><tspan font-size="12.2" stroke="#7c7c7c" stroke-width="0.25" dy="0" textLength="9.2" lengthAdjust="spacingAndGlyphs">0</tspan><tspan font-size="12.2" stroke="#7c7c7c" stroke-width="0.25" dy="0" textLength="9.2" lengthAdjust="spacingAndGlyphs">0</tspan></text>
<text x="493.2" y="69"><tspan font-size="12.2" stroke="#7c7c7c" stroke-width="0.25" dy="0" textLength="6.6" lengthAdjust="spacingAndGlyphs">1</tspan><tspan dy="3.3" textLength="8.6" lengthAdjust="spacingAndGlyphs">5</tspan><tspan font-size="12.2" stroke="#7c7c7c" stroke-width="0.25" dy="-3.3" textLength="9.2" lengthAdjust="spacingAndGlyphs">0</tspan></text>
<text x="537.9" y="69"><tspan font-size="12.2" stroke="#7c7c7c" stroke-width="0.25" dy="0" textLength="8.0" lengthAdjust="spacingAndGlyphs">2</tspan><tspan font-size="12.2" stroke="#7c7c7c" stroke-width="0.25" dy="0" textLength="9.2" lengthAdjust="spacingAndGlyphs">0</tspan><tspan font-size="12.2" stroke="#7c7c7c" stroke-width="0.25" dy="0" textLength="9.2" lengthAdjust="spacingAndGlyphs">0</tspan></text>
<text x="583.8" y="69"><tspan font-size="12.2" stroke="#7c7c7c" stroke-width="0.25" dy="0" textLength="8.0" lengthAdjust="spacingAndGlyphs">2</tspan><tspan dy="3.3" textLength="8.6" lengthAdjust="spacingAndGlyphs">5</tspan><tspan font-size="12.2" stroke="#7c7c7c" stroke-width="0.25" dy="-3.3" textLength="9.2" lengthAdjust="spacingAndGlyphs">0</tspan></text>
<text x="629.3" y="69"><tspan dy="3.3" textLength="7.6" lengthAdjust="spacingAndGlyphs">3</tspan><tspan font-size="12.2" stroke="#7c7c7c" stroke-width="0.25" dy="-3.3" textLength="9.2" lengthAdjust="spacingAndGlyphs">0</tspan><tspan font-size="12.2" stroke="#7c7c7c" stroke-width="0.25" dy="0" textLength="9.2" lengthAdjust="spacingAndGlyphs">0</tspan></text>
<text x="675.3" y="69"><tspan dy="3.3" textLength="7.6" lengthAdjust="spacingAndGlyphs">3</tspan><tspan dy="0.0" textLength="8.6" lengthAdjust="spacingAndGlyphs">5</tspan><tspan font-size="12.2" stroke="#7c7c7c" stroke-width="0.25" dy="-3.3" textLength="9.2" lengthAdjust="spacingAndGlyphs">0</tspan></text>
<text x="719.7" y="69"><tspan dy="3.3" textLength="9.4" lengthAdjust="spacingAndGlyphs">4</tspan><tspan font-size="12.2" stroke="#7c7c7c" stroke-width="0.25" dy="-3.3" textLength="9.2" lengthAdjust="spacingAndGlyphs">0</tspan><tspan font-size="12.2" stroke="#7c7c7c" stroke-width="0.25" dy="0" textLength="9.2" lengthAdjust="spacingAndGlyphs">0</tspan></text>
</g>
<text x="532.5" y="37.6" fill="#7c7c7c"><tspan font-size="12.9" stroke="#7c7c7c" stroke-width="0.25" textLength="43" lengthAdjust="spacingAndGlyphs">€2012</tspan><tspan font-size="15.6" textLength="47" lengthAdjust="spacingAndGlyphs">/MWh</tspan></text>
<text transform="translate(638.7,25.8) scale(0.866,1)" font-size="24.9" fill="#17378c" stroke="#17378c" stroke-width="0.5" letter-spacing="0.9">ECOFYS</text>
<path d="M684 34.6 C692 30 701 27.8 709 27.8 C718 27.8 726 29.6 731.6 31.8 L729.6 36.6 C724 33.4 716 31 708 30.4 C700 30 692 31.8 684 34.6 Z" fill="#74b72b"/>
<text x="688.3" y="53.6" font-size="5" fill="#8aa63a" textLength="80.5" lengthAdjust="spacingAndGlyphs">sustainable energy for everyone</text>
<text x="345.8" y="481.9" font-size="15.6" fill="#2a41b3" stroke="#2a41b3" stroke-width="0.3" textLength="352.6" lengthAdjust="spacingAndGlyphs">Blue bars: Levelised costs at realised full load hours</text>
<text x="258.8" y="499.5" font-size="15.6" fill="#8a8a8a" textLength="432.9" lengthAdjust="spacingAndGlyphs">Grey bars: Levelised costs at technically feasible full load hours</text>
</svg></body></html>
